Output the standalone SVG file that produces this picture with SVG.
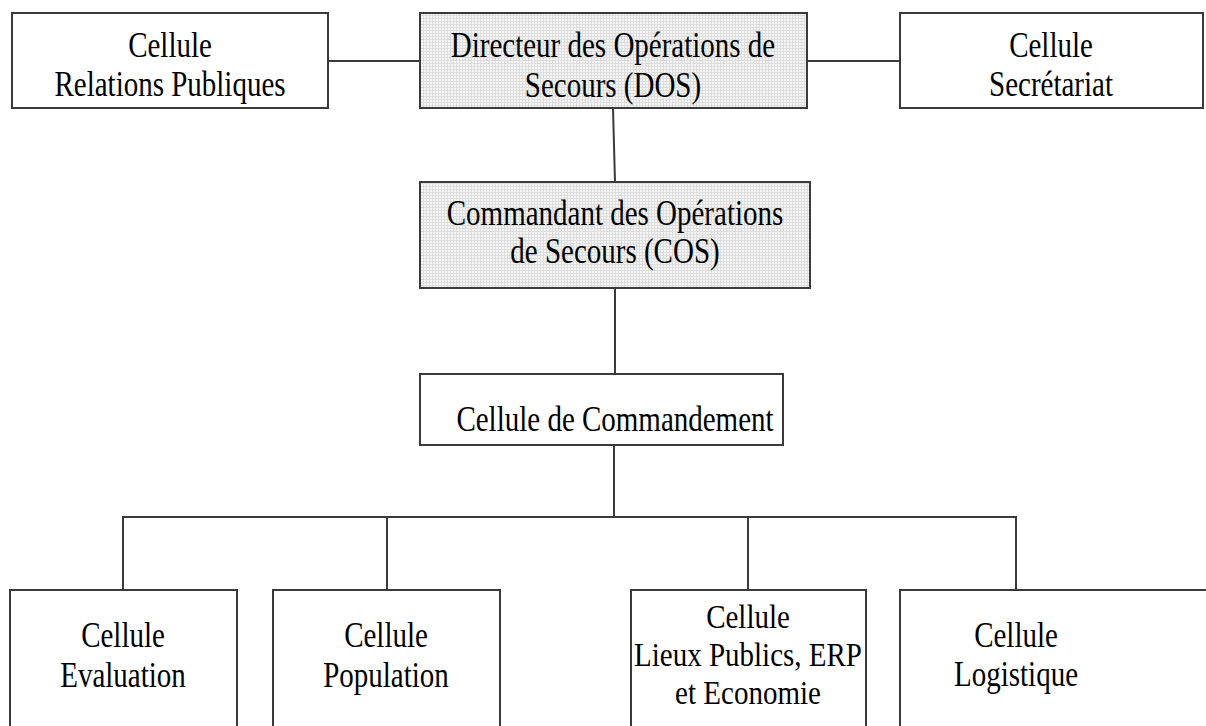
<svg xmlns="http://www.w3.org/2000/svg" width="1206" height="726" viewBox="0 0 1206 726">
<defs>
<pattern id="grid" width="3" height="3" patternUnits="userSpaceOnUse">
<rect width="3" height="3" fill="#f6f6f6"/>
<path d="M0 0.5H3M0.5 0V3" stroke="#dddddd" stroke-width="1"/>
</pattern>
</defs>
<style>
.box{fill:#fff;stroke:#3a3a3a;stroke-width:2}
.shade{fill:url(#grid);stroke:#3a3a3a;stroke-width:2}
.lnk{fill:none;stroke:#3a3a3a;stroke-width:2}
text{font-family:"Liberation Serif","Times New Roman",serif;font-size:29px;fill:#000;text-anchor:middle}
</style>
<rect width="1206" height="726" fill="#fff"/>
<g id="connectors">
<line class="lnk" x1="328" y1="61" x2="420" y2="61"/>
<line class="lnk" x1="807" y1="61" x2="900" y2="61"/>
<line class="lnk" x1="613" y1="108" x2="615" y2="182"/>
<line class="lnk" x1="615" y1="288" x2="615" y2="374"/>
<line class="lnk" x1="614" y1="445" x2="614" y2="517"/>
<polyline class="lnk" points="123,590 123,517 1016,517 1016,590"/>
<line class="lnk" x1="387" y1="517" x2="387" y2="590"/>
<line class="lnk" x1="748" y1="517" x2="748" y2="590"/>
</g>
<g id="relations">
<rect class="box" x="12" y="13" width="316" height="95"/>
<text transform="translate(170,57) scale(1,1.2)">Cellule</text>
<text transform="translate(170,96) scale(1,1.2)">Relations Publiques</text>
</g>
<g id="dos">
<rect class="shade" x="420" y="13" width="387" height="95"/>
<text transform="translate(613,57) scale(1,1.2)">Directeur des Opérations de</text>
<text transform="translate(613,97) scale(1,1.2)">Secours (DOS)</text>
</g>
<g id="secretariat">
<rect class="box" x="900" y="13" width="303" height="95"/>
<text transform="translate(1051,57) scale(1,1.2)">Cellule</text>
<text transform="translate(1051,96) scale(1,1.2)">Secrétariat</text>
</g>
<g id="cos">
<rect class="shade" x="420" y="182" width="390" height="106"/>
<text transform="translate(615,225) scale(1,1.2)">Commandant des Opérations</text>
<text transform="translate(615,263) scale(1,1.2)">de Secours (COS)</text>
</g>
<g id="commandement">
<rect class="box" x="420" y="374" width="363" height="71"/>
<text transform="translate(615,431) scale(1,1.2)">Cellule de Commandement</text>
</g>
<g id="evaluation">
<rect class="box" x="10" y="590" width="227" height="150"/>
<text transform="translate(123,647) scale(1,1.2)">Cellule</text>
<text transform="translate(123,687) scale(1,1.2)">Evaluation</text>
</g>
<g id="population">
<rect class="box" x="273" y="590" width="227" height="150"/>
<text transform="translate(386,647) scale(1,1.2)">Cellule</text>
<text transform="translate(386,687) scale(1,1.2)">Population</text>
</g>
<g id="lieux">
<rect class="box" x="631" y="590" width="235" height="150"/>
<text transform="translate(748,628) scale(1,1.15)">Cellule</text>
<text transform="translate(748,666) scale(1,1.15)">Lieux Publics, ERP</text>
<text transform="translate(748,704) scale(1,1.15)">et Economie</text>
</g>
<g id="logistique">
<rect class="box" x="900" y="590" width="320" height="150"/>
<text transform="translate(1016,647) scale(1,1.2)">Cellule</text>
<text transform="translate(1016,686) scale(1,1.2)">Logistique</text>
</g>
</svg>
